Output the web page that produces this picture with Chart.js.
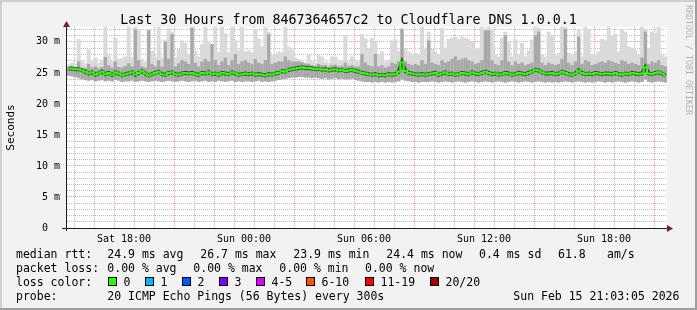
<!DOCTYPE html>
<html>
<head>
<meta charset="utf-8">
<script src="https://cdn.jsdelivr.net/npm/chart.js@4.4.1/dist/chart.umd.min.js"></script>
<style>
  html, body { margin: 0; padding: 0; background: #f2f2f2; }
  #wrap { width: 697px; height: 310px; }
</style>
</head>
<body>
<div id="wrap"><canvas id="c" width="697" height="310"></canvas></div>
<script>
// time axis: hours counted from Sat 00:00, one sample every 10 minutes
const startHour = 15.15;
const stepHours = 1 / 6;

// median rtt (ms), one row per 3 hours
const median = [
  25.7,25.7,25.6,25.6,25.4,25.2,24.9,25.1,24.7,24.9,25.2,24.8,25.0,24.7,25.1,24.9,24.6,24.8,
  24.9,25.1,24.7,25.0,25.3,24.9,24.6,24.8,25.0,25.2,24.8,24.7,25.0,25.1,24.8,24.7,24.9,25.0,
  24.9,25.0,24.8,24.7,25.0,24.9,25.1,24.8,24.9,24.7,25.0,24.9,24.8,25.1,24.9,24.7,24.8,24.9,
  24.8,24.9,24.7,24.8,24.7,24.6,24.8,24.7,24.9,25.0,25.3,25.2,25.5,25.6,25.7,25.8,25.9,25.8,
  25.8,25.7,25.6,25.7,25.5,25.6,25.4,25.5,25.6,25.4,25.5,25.3,25.4,25.5,25.3,25.2,25.0,24.9,
  24.8,24.7,24.8,24.6,24.7,24.6,24.8,24.7,24.8,25.2,26.7,25.3,25.0,24.9,24.8,24.7,24.8,24.7,
  24.8,24.9,25.0,24.7,24.9,25.1,24.8,24.9,24.7,24.8,25.0,24.9,24.8,25.1,24.9,24.8,25.0,25.2,
  25.0,24.8,24.9,24.7,24.8,25.0,24.9,24.7,24.8,25.0,24.9,24.8,25.0,25.2,25.5,25.4,25.1,24.9,
  24.9,25.0,24.8,24.9,25.2,25.0,24.8,24.7,24.9,25.4,25.0,24.8,24.9,24.8,25.0,24.9,24.8,24.9,
  24.9,24.8,25.0,24.8,24.7,24.9,24.8,25.0,24.9,24.8,24.9,25.9,24.9,24.8,25.0,25.1,24.9,24.6
];

// lowest ping of each sample (ms)
const lo = [
  24.6,24.5,24.4,24.2,24.0,23.9,23.8,23.9,23.7,23.8,23.9,23.7,23.8,23.7,23.9,23.8,23.6,23.7,
  23.7,23.8,23.6,23.7,23.8,23.7,23.6,23.7,23.8,23.7,23.6,23.7,23.8,23.7,23.6,23.7,23.8,23.7,
  23.6,23.7,23.8,23.6,23.7,23.8,23.6,23.7,23.6,23.8,23.7,23.6,23.7,23.8,23.6,23.7,23.6,23.7,
  23.7,23.6,23.7,23.8,23.6,23.7,23.6,23.7,23.8,23.9,24.0,24.1,24.2,24.3,24.3,24.4,24.4,24.3,
  24.3,24.2,24.3,24.2,24.1,24.2,24.0,24.1,24.2,24.0,24.1,24.0,24.0,24.1,23.9,23.8,23.7,23.6,
  23.6,23.5,23.6,23.5,23.6,23.5,23.6,23.5,23.6,23.7,24.0,23.8,23.7,23.6,23.6,23.5,23.6,23.6,
  23.6,23.7,23.6,23.5,23.6,23.7,23.6,23.5,23.6,23.7,23.6,23.5,23.6,23.7,23.6,23.5,23.6,23.7,
  23.6,23.5,23.6,23.7,23.6,23.5,23.6,23.7,23.6,23.5,23.6,23.7,23.6,23.5,23.6,23.7,23.6,23.5,
  23.6,23.5,23.6,23.5,23.6,23.7,23.6,23.5,23.6,23.7,23.6,23.5,23.6,23.5,23.6,23.7,23.6,23.5,
  23.6,23.5,23.6,23.7,23.6,23.5,23.6,23.7,23.6,23.5,23.6,24.0,23.6,23.5,23.6,23.7,23.6,23.5
];

// top of the denser smoke (ms)
const mid = [
  25.9,26.0,25.9,26.8,25.8,25.7,26.4,25.8,26.0,25.7,25.9,27.5,26.2,25.8,26.8,25.9,25.8,26.1,
  26.5,26.0,32.0,27.0,26.0,25.8,31.8,26.4,26.0,27.0,26.0,30.0,27.2,31.2,26.0,26.5,27.0,26.8,
  26.4,32.2,26.6,26.0,26.8,27.2,26.8,29.6,27.0,26.2,26.8,27.4,26.2,27.0,28.0,26.4,26.8,27.0,
  26.6,26.4,27.2,26.6,26.4,27.0,31.2,26.4,26.6,26.8,26.8,27.6,27.0,26.8,26.8,26.8,26.7,26.5,
  26.4,26.2,26.1,26.4,26.2,26.2,26.0,26.2,26.3,26.0,26.1,26.6,26.1,26.2,26.0,26.0,28.0,26.6,
  26.2,26.0,28.0,26.0,26.2,25.8,26.0,26.6,26.4,26.8,32.0,26.8,26.4,26.2,26.4,26.2,27.0,26.4,
  30.2,26.6,26.4,26.2,27.0,26.6,26.8,27.2,27.6,27.0,27.2,27.4,27.0,26.8,26.4,26.6,27.0,31.8,
  31.8,27.0,26.4,26.2,27.0,31.0,26.8,26.2,26.8,26.4,26.6,26.2,26.4,26.6,31.0,31.6,26.6,26.2,
  26.6,26.4,26.2,26.4,27.2,32.0,26.6,26.2,26.8,30.8,26.4,27.0,26.8,26.2,26.4,26.6,26.8,26.6,
  27.0,26.8,26.6,26.4,27.0,26.8,26.4,26.6,26.4,26.2,27.4,31.6,26.4,26.8,26.6,27.0,26.2,26.0
];

// highest ping of each sample (ms)
const hi = [
  26.3,26.6,26.4,30.4,27.0,26.5,28.7,26.8,27.4,26.6,27.0,32.4,27.8,26.9,30.6,27.2,27.3,27.6,
  32.4,27.5,32.4,31.8,27.2,26.8,32.0,28.5,27.6,32.4,27.4,30.3,32.2,31.6,27.5,28.8,30.2,29.8,
  28.0,32.4,28.5,27.6,29.6,32.4,30.0,29.5,32.4,28.3,32.4,31.3,28.3,32.4,30.2,28.6,32.4,28.4,
  28.6,28.3,32.0,30.5,29.2,32.4,31.6,27.8,28.0,28.4,28.3,32.4,29.2,28.7,27.4,27.2,26.8,26.6,
  28.0,26.8,26.6,27.8,27.6,26.7,26.6,27.6,27.6,26.8,27.0,31.0,26.8,27.6,26.9,26.8,31.2,30.5,
  28.8,30.6,30.0,28.0,28.4,26.8,27.0,30.2,30.4,28.5,32.2,28.8,28.4,27.8,28.2,28.0,32.4,29.0,
  31.6,28.8,28.4,28.0,32.2,29.0,30.4,30.6,30.8,30.4,30.8,30.6,30.4,30.0,28.8,29.0,32.4,32.0,
  32.4,32.0,28.0,27.6,30.6,31.6,30.0,27.6,30.4,28.0,29.8,27.6,28.6,30.3,32.4,32.2,28.0,27.6,
  31.6,31.0,27.8,28.2,32.4,32.4,28.2,27.8,28.4,32.0,27.6,32.4,32.0,28.0,27.8,28.4,30.4,30.2,
  32.4,31.0,31.2,28.4,32.0,31.6,29.2,29.0,28.6,28.0,32.4,32.0,29.0,31.6,31.4,32.4,27.8,27.6
];

const tickHours = [18, 24, 30, 36, 42];
const tickLabels = ['Sat 18:00', 'Sun 00:00', 'Sun 06:00', 'Sun 12:00', 'Sun 18:00'];

const lossLabels = ['0', '1', '2', '3', '4-5', '6-10', '11-19', '20/20'];
const lossColors = ['#26ff00', '#00b8ff', '#0059ff', '#7e00ff', '#dd00ff', '#ff5500', '#ff0000', '#a10000'];

const FONT = "'DejaVu Sans Mono', monospace";
const GRID = 'rgba(143,143,143,0.6)';
const MGRID = 'rgba(222,79,79,0.55)';

const times = median.map((_, i) => startHour + (i + 0.5) * stepHours);
const hourTicks = [];
for (let h = 16; h <= 45; h++) hourTicks.push(h);
const msTicks = [];
for (let v = 0; v <= 32; v++) msTicks.push(v);

const frame = {
  id: 'frame',
  beforeDraw(chart) {
    const { ctx, chartArea: a } = chart;
    ctx.save();
    ctx.fillStyle = '#f2f2f2';
    ctx.fillRect(0, 0, 697, 310);
    ctx.fillStyle = '#cfcfcf';
    ctx.fillRect(0, 0, 697, 2);
    ctx.fillRect(0, 0, 2, 310);
    ctx.fillStyle = '#9e9e9e';
    ctx.fillRect(0, 308, 697, 2);
    ctx.fillRect(695, 0, 2, 310);
    ctx.fillStyle = '#ffffff';
    ctx.fillRect(a.left, a.top, a.right - a.left, a.bottom - a.top);
    ctx.restore();
  },
  afterDraw(chart) {
    const { ctx, chartArea: a } = chart;
    ctx.save();
    // axes
    ctx.strokeStyle = '#1f1f1f';
    ctx.lineWidth = 1;
    ctx.beginPath();
    ctx.moveTo(a.left - 5, a.bottom + 0.5);
    ctx.lineTo(a.right + 1, a.bottom + 0.5);
    ctx.moveTo(a.left - 0.5, a.bottom + 3);
    ctx.lineTo(a.left - 0.5, a.top - 3);
    ctx.stroke();
    ctx.fillStyle = '#801f1f';
    ctx.beginPath();
    ctx.moveTo(a.right, a.bottom - 3);
    ctx.lineTo(a.right + 6, a.bottom + 0.5);
    ctx.lineTo(a.right, a.bottom + 4);
    ctx.fill();
    ctx.beginPath();
    ctx.moveTo(a.left - 4, a.top);
    ctx.lineTo(a.left - 0.5, a.top - 6);
    ctx.lineTo(a.left + 3, a.top);
    ctx.fill();

    // title
    ctx.fillStyle = '#000';
    ctx.font = '13.3px ' + FONT;
    ctx.textAlign = 'center';
    ctx.textBaseline = 'alphabetic';
    ctx.fillText('Last 30 Hours from 8467364657c2 to Cloudflare DNS 1.0.0.1', 348.5, 24);

    // vertical label
    ctx.save();
    ctx.translate(11.5, 127.5);
    ctx.rotate(-Math.PI / 2);
    ctx.font = '11px ' + FONT;
    ctx.textBaseline = 'middle';
    ctx.fillText('Seconds', 0, 0);
    ctx.restore();

    ctx.save();
    ctx.translate(688.5, 60);
    ctx.rotate(Math.PI / 2);
    ctx.font = '8.3px ' + FONT;
    ctx.fillStyle = '#b4b4b4';
    ctx.textBaseline = 'middle';
    ctx.fillText('RRDTOOL / TOBI OETIKER', 0, 0);
    ctx.restore();

    // legend
    ctx.font = '11.5px ' + FONT;
    ctx.textAlign = 'left';
    ctx.fillStyle = '#000';
    const rows = [
      [[16, 'median rtt:'], [107.3, '24.9 ms avg'], [200.3, '26.7 ms max'], [293.3, '23.9 ms min'],
       [386.3, '24.4 ms now'], [479, '0.4 ms sd'], [558, '61.8'], [607, 'am/s']],
      [[16, 'packet loss:'], [107.3, '0.00 % avg'], [193.3, '0.00 % max'], [279.3, '0.00 % min'], [365, '0.00 % now']],
      [[16, 'loss color:']],
      [[16, 'probe:'], [107.3, '20 ICMP Echo Pings (56 Bytes) every 300s'], [513.3, 'Sun Feb 15 21:03:05 2026']]
    ];
    const base = [257.5, 271.6, 285.7, 299.8];
    rows.forEach((r, k) => r.forEach(([x, t]) => ctx.fillText(t, x, base[k])));
    const sq = [108.5, 145.5, 182.5, 219.5, 256.5, 306.5, 365.5, 430.5];
    lossLabels.forEach((lab, k) => {
      ctx.fillStyle = lossColors[k];
      ctx.fillRect(sq[k], 277.5, 8, 8);
      ctx.strokeStyle = '#000';
      ctx.strokeRect(sq[k], 277.5, 8, 8);
      ctx.fillStyle = '#000';
      ctx.fillText(lab, sq[k] + 15, base[2]);
    });
    ctx.restore();
  }
};

const gridColor = c => (c.tick && c.tick.value % 3 === 0 ? MGRID : GRID);
const yGridColor = c => (c.tick && c.tick.value % 5 === 0 ? MGRID : GRID);

new Chart(document.getElementById('c'), {
  type: 'bar',
  data: {
    datasets: [
      {
        type: 'bar',
        data: times.map((t, i) => ({ x: t, y: [lo[i], hi[i]] })),
        backgroundColor: '#dadada',
        barThickness: 3.4,
        grouped: false,
        borderWidth: 0,
        order: 3
      },
      {
        type: 'bar',
        data: times.map((t, i) => ({ x: t, y: [lo[i], mid[i]] })),
        backgroundColor: '#a8a8a8',
        barThickness: 2.6,
        grouped: false,
        borderWidth: 0,
        order: 2
      },
      {
        type: 'line',
        data: times.map((t, i) => ({ x: t, y: median[i] })),
        borderColor: 'rgba(30,30,30,0.7)',
        borderWidth: 4,
        pointRadius: 0,
        order: 1
      },
      {
        type: 'line',
        data: times.map((t, i) => ({ x: t, y: median[i] })),
        borderColor: '#26ff00',
        borderWidth: 2,
        stepped: 'middle',
        pointRadius: 0,
        order: 0
      }
    ]
  },
  options: {
    responsive: false,
    devicePixelRatio: 1,
    animation: false,
    layout: { padding: { top: 27, right: 30, left: 0, bottom: 0 } },
    plugins: { legend: { display: false }, tooltip: { enabled: false } },
    scales: {
      x: {
        type: 'linear',
        min: startHour,
        max: startHour + 30,
        offset: false,
        z: 1,
        afterBuildTicks: s => { s.ticks = hourTicks.map(v => ({ value: v })); },
        afterFit: s => { s.height = 82; },
        ticks: {
          autoSkip: false,
          maxRotation: 0,
          padding: 5,
          color: '#000',
          font: { family: FONT, size: 10 },
          callback: v => {
            const k = tickHours.indexOf(v);
            return k < 0 ? '' : tickLabels[k];
          }
        },
        grid: { drawTicks: false, color: gridColor, lineWidth: 1 },
        border: { display: false, dash: [1, 1] }
      },
      y: {
        min: 0,
        max: 32.4,
        z: 1,
        afterBuildTicks: s => { s.ticks = msTicks.map(v => ({ value: v })); },
        afterFit: s => { s.width = 67; },
        ticks: {
          autoSkip: false,
          padding: 7,
          color: '#000',
          font: { family: FONT, size: 10 },
          callback: v => (v % 5 ? '' : (v ? v + ' m' : '0  '))
        },
        grid: { drawTicks: false, color: yGridColor, lineWidth: 1 },
        border: { display: false, dash: [1, 1] }
      }
    }
  },
  plugins: [frame]
});
</script>
</body>
</html>
